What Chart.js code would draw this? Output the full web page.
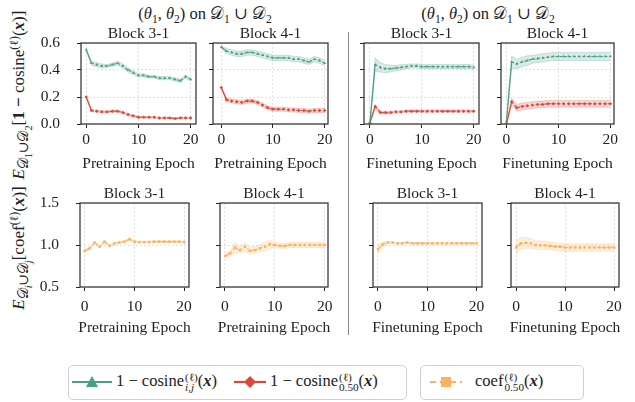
<!DOCTYPE html>
<html>
<head>
<meta charset="utf-8">
<script src="https://cdn.jsdelivr.net/npm/chart.js@4.4.0/dist/chart.umd.min.js"></script>
<style>
  body { margin: 0; background: #fff; }
  #fig { position: relative; width: 635px; height: 402px; overflow: hidden;
         font-family: "Liberation Serif", "DejaVu Serif", serif; color: #222; }
  .t { position: absolute; white-space: nowrap; transform: translate(-50%, -50%);
       font-size: 15.5px; line-height: 1; }
  .rot { transform: translate(-50%, -50%) rotate(-90deg); font-size: 17px; }
  .rot sub { font-size: 0.8em; }
  .rot sub sub { font-size: 0.75em; }
  .c { position: absolute; }
  sub, sup { font-size: 0.7em; line-height: 0; }
  .ss { display: inline-block; vertical-align: middle; line-height: 0.9; font-size: 0.68em; margin-left: 1px; }
  .ss span { display: block; }
  .box { position: absolute; border: 1px solid #d0d0d0; border-radius: 5px; }
  .lg { position: absolute; top: 382px; transform: translateY(-50%); font-size: 16.5px; white-space: nowrap; }
  .sep { position: absolute; left: 348px; top: 32px; width: 1.3px; height: 303px; background: #8a8a8a; }
</style>
</head>
<body>
<div id="fig">
  <div class="sep"></div>

  <div class="t" style="left:205px;top:14px;font-size:16.5px">(<i>θ</i><sub>1</sub>, <i>θ</i><sub>2</sub>) on 𝒟<sub>1</sub> ∪ 𝒟<sub>2</sub></div>
  <div class="t" style="left:488px;top:14px;font-size:16.5px">(<i>θ</i><sub>1</sub>, <i>θ</i><sub>2</sub>) on 𝒟<sub>1</sub> ∪ 𝒟<sub>2</sub></div>

  <div class="t rot" style="left:20px;top:95px"><i>E</i><sub>𝒟<sub>1</sub>∪𝒟<sub>2</sub></sub>[<b>1 −</b> cosine<sup>(ℓ)</sup>(<b><i>x</i></b>)]</div>
  <div class="t rot" style="left:20px;top:248px"><i>E</i><sub>𝒟<sub><i>i</i></sub>∪𝒟<sub><i>j</i></sub></sub>[coef<sup>(ℓ)</sup>(<b><i>x</i></b>)]</div>

  <div class="box" style="left:68px;top:365px;width:337px;height:33px"></div>
  <div class="box" style="left:420px;top:365px;width:162px;height:33px"></div>
  <svg class="lg" style="left:72px" width="40" height="14" viewBox="0 0 40 14">
    <line x1="0" y1="7" x2="40" y2="7" stroke="#4a9e8a" stroke-width="2.2"/>
    <polygon points="20,1 26,12 14,12" fill="#4a9e8a"/>
  </svg>
  <div class="lg" style="left:116px">1 − cosine<span class="ss"><span>(ℓ)</span><span><i>i</i>,<i>j</i></span></span>(<b><i>x</i></b>)</div>
  <svg class="lg" style="left:234px" width="32" height="14" viewBox="0 0 32 14">
    <line x1="0" y1="7" x2="32" y2="7" stroke="#d64a3b" stroke-width="2.2"/>
    <polygon points="16,1 22,7 16,13 10,7" fill="#d64a3b"/>
  </svg>
  <div class="lg" style="left:270px">1 − cosine<span class="ss"><span>(ℓ)</span><span>0.50</span></span>(<b><i>x</i></b>)</div>
  <svg class="lg" style="left:430px" width="32" height="14" viewBox="0 0 32 14">
    <line x1="0" y1="7" x2="32" y2="7" stroke="#fbb25e" stroke-width="2.2" stroke-dasharray="6,4"/>
    <rect x="11" y="2" width="10" height="10" fill="#fbb25e"/>
  </svg>
  <div class="lg" style="left:475px">coef<span class="ss"><span>(ℓ)</span><span>0.50</span></span>(<b><i>x</i></b>)</div>
</div>

<script>
const epochs = [0, 1, 2, 3, 4, 5, 6, 7, 8, 9, 10, 11, 12, 13, 14, 15, 16, 17, 18, 19, 20];
const xTicks = [0, 10, 20];
const cosTicks = [0, 0.2, 0.4, 0.6];
const coefTicks = [0.5, 1.0, 1.5];

// pretraining, block 3-1
const pre31CosIJ    = [0.55, 0.45, 0.44, 0.43, 0.43, 0.44, 0.45, 0.43, 0.40, 0.38, 0.36, 0.36, 0.35, 0.35, 0.34, 0.34, 0.34, 0.33, 0.32, 0.35, 0.33];
const pre31CosIJErr = [0.005, 0.015, 0.015, 0.015, 0.01, 0.012, 0.015, 0.015, 0.015, 0.015, 0.012, 0.012, 0.01, 0.01, 0.012, 0.012, 0.012, 0.012, 0.012, 0.012, 0.01];
const pre31Cos50    = [0.20, 0.10, 0.095, 0.09, 0.09, 0.095, 0.095, 0.085, 0.07, 0.06, 0.05, 0.05, 0.05, 0.05, 0.045, 0.045, 0.045, 0.04, 0.045, 0.045, 0.045];
const pre31Cos50Err = [0.004, 0.008, 0.008, 0.008, 0.008, 0.008, 0.008, 0.008, 0.008, 0.008, 0.006, 0.006, 0.006, 0.006, 0.006, 0.006, 0.006, 0.006, 0.006, 0.006, 0.006];
// pretraining, block 4-1
const pre41CosIJ    = [0.57, 0.54, 0.53, 0.52, 0.52, 0.53, 0.53, 0.52, 0.51, 0.50, 0.49, 0.49, 0.49, 0.49, 0.48, 0.48, 0.47, 0.46, 0.48, 0.47, 0.45];
const pre41CosIJErr = [0.01, 0.02, 0.02, 0.02, 0.02, 0.02, 0.02, 0.02, 0.02, 0.02, 0.02, 0.02, 0.02, 0.02, 0.02, 0.02, 0.02, 0.02, 0.02, 0.02, 0.02];
const pre41Cos50    = [0.27, 0.18, 0.17, 0.165, 0.16, 0.17, 0.17, 0.16, 0.14, 0.12, 0.11, 0.11, 0.11, 0.105, 0.105, 0.10, 0.10, 0.095, 0.10, 0.10, 0.10];
const pre41Cos50Err = [0.01, 0.015, 0.015, 0.015, 0.015, 0.015, 0.015, 0.015, 0.015, 0.015, 0.015, 0.015, 0.015, 0.015, 0.015, 0.015, 0.015, 0.015, 0.015, 0.015, 0.015];
// finetuning, block 3-1
const fin31CosIJ    = [0.01, 0.44, 0.42, 0.41, 0.41, 0.415, 0.42, 0.425, 0.43, 0.43, 0.425, 0.425, 0.425, 0.425, 0.425, 0.425, 0.425, 0.425, 0.425, 0.425, 0.42];
const fin31CosIJErr = [0.01, 0.05, 0.035, 0.03, 0.025, 0.02, 0.02, 0.015, 0.015, 0.015, 0.015, 0.015, 0.015, 0.015, 0.015, 0.015, 0.015, 0.015, 0.015, 0.015, 0.015];
const fin31Cos50    = [0.01, 0.13, 0.085, 0.085, 0.085, 0.09, 0.09, 0.095, 0.095, 0.095, 0.095, 0.095, 0.095, 0.095, 0.095, 0.095, 0.095, 0.095, 0.095, 0.095, 0.095];
const fin31Cos50Err = [0.005, 0.015, 0.01, 0.01, 0.01, 0.008, 0.008, 0.008, 0.008, 0.008, 0.008, 0.008, 0.008, 0.008, 0.008, 0.008, 0.008, 0.008, 0.008, 0.008, 0.008];
// finetuning, block 4-1
const fin41CosIJ    = [0.02, 0.46, 0.445, 0.46, 0.47, 0.48, 0.485, 0.49, 0.495, 0.50, 0.50, 0.50, 0.50, 0.50, 0.50, 0.50, 0.50, 0.50, 0.50, 0.50, 0.50];
const fin41CosIJErr = [0.01, 0.045, 0.035, 0.035, 0.035, 0.03, 0.03, 0.03, 0.03, 0.03, 0.03, 0.03, 0.03, 0.03, 0.03, 0.03, 0.03, 0.03, 0.03, 0.03, 0.03];
const fin41Cos50    = [0.0, 0.165, 0.12, 0.13, 0.135, 0.14, 0.145, 0.145, 0.15, 0.15, 0.15, 0.15, 0.15, 0.15, 0.15, 0.15, 0.15, 0.15, 0.15, 0.15, 0.15];
const fin41Cos50Err = [0.005, 0.025, 0.025, 0.025, 0.025, 0.025, 0.025, 0.025, 0.025, 0.025, 0.025, 0.025, 0.025, 0.025, 0.025, 0.025, 0.025, 0.025, 0.025, 0.025, 0.025];
// coef, bottom row
const pre31Coef    = [0.93, 0.96, 1.03, 0.98, 1.04, 0.99, 1.02, 1.03, 1.04, 1.07, 1.04, 1.035, 1.035, 1.035, 1.04, 1.04, 1.04, 1.04, 1.04, 1.04, 1.035];
const pre31CoefErr = [0.012, 0.012, 0.015, 0.012, 0.015, 0.012, 0.012, 0.012, 0.012, 0.012, 0.012, 0.01, 0.01, 0.01, 0.01, 0.01, 0.01, 0.01, 0.01, 0.01, 0.01];
const pre41Coef    = [0.87, 0.90, 0.97, 0.94, 0.98, 0.93, 0.94, 0.96, 0.98, 1.01, 1.0, 0.99, 0.99, 1.0, 1.0, 1.0, 1.0, 1.0, 1.0, 1.0, 1.0];
const pre41CoefErr = [0.03, 0.03, 0.06, 0.04, 0.05, 0.04, 0.04, 0.04, 0.05, 0.05, 0.03, 0.03, 0.03, 0.03, 0.03, 0.03, 0.03, 0.03, 0.03, 0.03, 0.03];
const fin31Coef    = [0.95, 1.01, 1.03, 1.03, 1.02, 1.02, 1.03, 1.02, 1.02, 1.02, 1.02, 1.02, 1.02, 1.02, 1.02, 1.02, 1.02, 1.02, 1.02, 1.02, 1.02];
const fin31CoefErr = [0.05, 0.03, 0.015, 0.012, 0.01, 0.01, 0.01, 0.01, 0.01, 0.01, 0.01, 0.01, 0.01, 0.01, 0.01, 0.01, 0.01, 0.01, 0.01, 0.01, 0.01];
const fin41Coef    = [0.97, 1.02, 1.025, 1.02, 1.0, 0.995, 0.995, 0.99, 0.98, 0.98, 0.97, 0.97, 0.97, 0.97, 0.97, 0.97, 0.97, 0.97, 0.97, 0.97, 0.97];
const fin41CoefErr = [0.08, 0.07, 0.065, 0.06, 0.05, 0.05, 0.05, 0.045, 0.045, 0.045, 0.045, 0.045, 0.045, 0.045, 0.045, 0.045, 0.045, 0.045, 0.045, 0.045, 0.045];

const GREEN = '#4a9e8a', RED = '#d64a3b', ORANGE = '#fbb25e';
const FONT = '"Liberation Serif", "DejaVu Serif", serif';

function rgba(hex, a) {
  const n = parseInt(hex.slice(1), 16);
  return `rgba(${n >> 16},${(n >> 8) & 255},${n & 255},${a})`;
}

// draws the 4 spines
const framePlugin = {
  id: 'frame',
  afterDraw(chart) {
    const a = chart.chartArea, ctx = chart.ctx;
    ctx.save();
    ctx.strokeStyle = '#2b2b2b';
    ctx.lineWidth = 1.2;
    ctx.strokeRect(a.left, a.top, a.right - a.left, a.bottom - a.top);
    ctx.restore();
  }
};

function series(mean, err, color, style) {
  const pts = (f) => epochs.map((x, i) => ({ x, y: f(i) }));
  return [
    { data: pts(i => mean[i] + err[i]), borderColor: rgba(color, 0.3), borderWidth: 0.8, pointRadius: 0, fill: false },
    { data: pts(i => mean[i] - err[i]), borderColor: rgba(color, 0.3), borderWidth: 0.8, pointRadius: 0,
      fill: '-1', backgroundColor: rgba(color, 0.22) },
    { data: pts(i => mean[i]), borderColor: color, borderWidth: 1.2, pointStyle: style, pointRadius: 1.7,
      pointBackgroundColor: color, pointBorderWidth: 0, fill: false,
      segment: { borderDash: c => c.p0DataIndex === 0 ? [] : [2.5, 2] } }
  ];
}

const PL = 48, PT = 6, PR = 6, PB = 34;

// kill the label overhang padding so the plot box lands where we put it
function noPad(s) {
  s.paddingTop = 0; s.paddingBottom = 0; s.paddingLeft = 0; s.paddingRight = 0;
}

function panel(box, xr, yr, yTicks, showY, tickPad, datasets, title, xlabel) {
  const fig = document.getElementById('fig');
  const wrap = document.createElement('div');
  wrap.className = 'c';
  wrap.style.left = (box.left - PL) + 'px';
  wrap.style.top = (box.top - PT) + 'px';
  const cv = document.createElement('canvas');
  cv.width = box.w + PL + PR;
  cv.height = box.h + PT + PB;
  wrap.appendChild(cv);
  fig.appendChild(wrap);

  const cx = box.left + box.w / 2;
  const t = document.createElement('div');
  t.className = 't';
  t.style.left = cx + 'px';
  t.style.top = (box.top - 10) + 'px';
  t.textContent = title;
  fig.appendChild(t);
  const xl = document.createElement('div');
  xl.className = 't';
  xl.style.left = cx + 'px';
  xl.style.top = (box.top + box.h + tickPad.label) + 'px';
  xl.textContent = xlabel;
  fig.appendChild(xl);

  const grid = { color: '#d9d9d9', lineWidth: 0.8, tickColor: '#222', tickWidth: 1, tickLength: 4 };
  new Chart(cv, {
    type: 'line',
    data: { datasets },
    options: {
      responsive: false,
      animation: false,
      layout: { padding: { top: PT, right: PR, left: 0, bottom: 0 } },
      plugins: { legend: { display: false }, tooltip: { enabled: false } },
      scales: {
        x: {
          type: 'linear', min: xr[0], max: xr[1],
          afterBuildTicks: s => { s.ticks = xTicks.map(v => ({ value: v })); },
          afterFit: s => { s.height = PB; noPad(s); },
          grid, border: { display: false, dash: [2, 2] },
          ticks: { font: { family: FONT, size: 15.5 }, color: '#222', padding: tickPad.x, maxRotation: 0,
                   autoSkip: false, callback: v => String(v) }
        },
        y: {
          min: yr[0], max: yr[1],
          afterBuildTicks: s => { s.ticks = yTicks.map(v => ({ value: v })); },
          afterFit: s => { s.width = PL; noPad(s); },
          grid, border: { display: false, dash: [2, 2] },
          ticks: { display: showY, font: { family: FONT, size: 15.5 }, color: '#222', padding: 17,
                   autoSkip: false, callback: v => v.toFixed(1) }
        }
      }
    },
    plugins: [framePlugin]
  });
}

const topPad = { x: 3, label: 39 };
const botPad = { x: 7, label: 40 };
const cosY = [0, 0.6], coefY = [0.5, 1.5];

panel({ left: 81, top: 43, w: 115, h: 81 }, [-1, 21], cosY, cosTicks, true, topPad,
  [...series(pre31CosIJ, pre31CosIJErr, GREEN, 'triangle'), ...series(pre31Cos50, pre31Cos50Err, RED, 'rectRot')],
  'Block 3-1', 'Pretraining Epoch');
panel({ left: 213, top: 43, w: 115, h: 81 }, [-1.6, 20.65], cosY, cosTicks, false, topPad,
  [...series(pre41CosIJ, pre41CosIJErr, GREEN, 'triangle'), ...series(pre41Cos50, pre41Cos50Err, RED, 'rectRot')],
  'Block 4-1', 'Pretraining Epoch');
panel({ left: 364, top: 43, w: 115, h: 81 }, [-1.15, 21], cosY, cosTicks, false, topPad,
  [...series(fin31CosIJ, fin31CosIJErr, GREEN, 'triangle'), ...series(fin31Cos50, fin31Cos50Err, RED, 'rectRot')],
  'Block 3-1', 'Finetuning Epoch');
panel({ left: 501, top: 43, w: 113, h: 81 }, [-1.05, 20.7], cosY, cosTicks, false, topPad,
  [...series(fin41CosIJ, fin41CosIJErr, GREEN, 'triangle'), ...series(fin41Cos50, fin41Cos50Err, RED, 'rectRot')],
  'Block 4-1', 'Finetuning Epoch');

panel({ left: 80, top: 203, w: 109, h: 84 }, [-0.95, 21], coefY, coefTicks, true, botPad,
  series(pre31Coef, pre31CoefErr, ORANGE, 'rect'), 'Block 3-1', 'Pretraining Epoch');
panel({ left: 220, top: 203, w: 108, h: 84 }, [-1, 20.67], coefY, coefTicks, false, botPad,
  series(pre41Coef, pre41CoefErr, ORANGE, 'rect'), 'Block 4-1', 'Pretraining Epoch');
panel({ left: 373, top: 203, w: 109, h: 84 }, [-1, 21.1], coefY, coefTicks, false, botPad,
  series(fin31Coef, fin31CoefErr, ORANGE, 'rect'), 'Block 3-1', 'Finetuning Epoch');
panel({ left: 511, top: 203, w: 108, h: 84 }, [-1.02, 21], coefY, coefTicks, false, botPad,
  series(fin41Coef, fin41CoefErr, ORANGE, 'rect'), 'Block 4-1', 'Finetuning Epoch');
</script>
</body>
</html>
